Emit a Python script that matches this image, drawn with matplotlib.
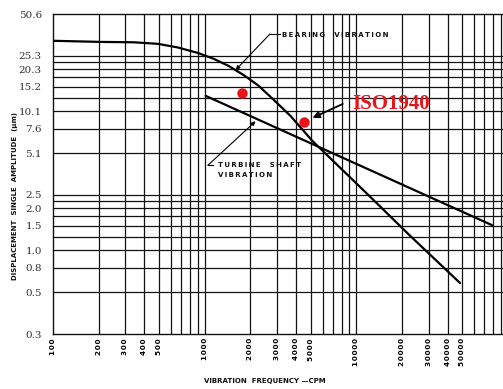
import matplotlib
matplotlib.use("Agg")
import matplotlib.pyplot as plt

UM_PER_MIL = 25.4

# Bearing vibration limit curve (frequency in CPM, displacement in µm)
bearing_cpm = [100, 207, 341, 491, 664, 899, 1146, 1439, 1805, 2266, 2845,
               3680, 5134, 11815, 22660, 48330]
bearing_um = [32.6, 32.0, 31.8, 31.0, 29.2, 26.7, 24.2, 21.5, 18.5, 15.5, 12.3,
              9.40, 6.21, 2.58, 1.29, 0.59]

# Turbine shaft vibration limit line
shaft_cpm = [1015, 78500]
shaft_um = [13.1, 1.54]

# ISO1940 points
iso_cpm = [1751, 4548]
iso_um = [13.8, 8.5]

# Axis ticks: grid laid out in mils, labelled in µm
y_tick_mils = [2, 1, 0.8, 0.6, 0.4, 0.3, 0.2, 0.1, 0.08, 0.06, 0.04, 0.03, 0.02, 0.01]
y_tick_labels = ["50.6", "25.3", "20.3", "15.2", "10.1", "7.6", "5.1",
                 "2.5", "2.0", "1.5", "1.0", "0.8", "0.5", "0.3"]
x_ticks = [100, 200, 300, 400, 500, 1000, 2000, 3000, 4000, 5000,
           10000, 20000, 30000, 40000, 50000]
y_grid_mils = [1, 0.9, 0.8, 0.7, 0.6, 0.5, 0.4, 0.3, 0.2,
               0.1, 0.09, 0.08, 0.07, 0.06, 0.05, 0.04, 0.03, 0.02]
x_grid = [m * d for d in (100, 1000, 10000) for m in range(2, 10)] + [1000, 10000]


def spaced(text, gap="\u2009"):
    """Letter-spaced caption text."""
    return "\n".join(gap.join(line) for line in text.split("\n"))


fig = plt.figure(figsize=(5.03, 3.89), dpi=100)
ax = fig.add_axes([53 / 503, 1 - 334 / 389, 1 - 53 / 503, 320 / 389])
ax.set_xscale("log")
ax.set_yscale("log")
ax.set_xlim(100, 92700)
ax.set_ylim(0.01 * UM_PER_MIL, 2 * UM_PER_MIL)

grid_kw = dict(color="#111111", lw=0.9, zorder=1)
for g in y_grid_mils:
    ax.axhline(g * UM_PER_MIL, **grid_kw)
for g in x_grid:
    ax.axvline(g, **grid_kw)

ax.spines["right"].set_visible(False)
for s in ("left", "top", "bottom"):
    ax.spines[s].set_linewidth(1.0)
    ax.spines[s].set_color("#111111")

ax.xaxis.set_minor_locator(plt.NullLocator())
ax.yaxis.set_minor_locator(plt.NullLocator())
ax.set_xticks(x_ticks)
ax.set_xticklabels([spaced(str(v), "\u200a") for v in x_ticks], rotation=90,
                   fontsize=5.2, fontweight="bold", family="DejaVu Sans")
ax.set_yticks([m * UM_PER_MIL for m in y_tick_mils])
ax.set_yticklabels(y_tick_labels, fontsize=7.5, family="DejaVu Serif", color="#333333")
ax.tick_params(axis="both", length=0)
ax.tick_params(axis="x", pad=3)
ax.tick_params(axis="y", pad=8)

ax.plot(bearing_cpm, bearing_um, color="black", lw=1.6, zorder=3,
        solid_capstyle="round", solid_joinstyle="round")
ax.plot(shaft_cpm, shaft_um, color="black", lw=1.6, zorder=3,
        solid_capstyle="round")
ax.plot(iso_cpm, iso_um, "o", color="#e8141b", ms=7.5, mec="none", zorder=4)

label_kw = dict(fontsize=5, fontweight="bold", family="DejaVu Sans", color="#111111")
arrow_kw = dict(arrowstyle="-|>", color="black", lw=0.8, mutation_scale=6,
                shrinkA=0, shrinkB=0)

# Bearing vibration callout
ax.text(0.509, 0.934, spaced("BEARING  VIBRATION"), transform=ax.transAxes,
        ha="left", va="center", **label_kw)
ax.plot([0.504, 0.482], [0.9375, 0.9375], transform=ax.transAxes,
        color="black", lw=0.8, zorder=5)
ax.annotate("", xy=(1600, 20.1), xycoords="data",
            xytext=(0.482, 0.9375), textcoords="axes fraction",
            arrowprops=arrow_kw, zorder=5)

# Turbine shaft callout
ax.text(0.366, 0.536, spaced("TURBINE  SHAFT\nVIBRATION"), transform=ax.transAxes,
        ha="left", va="top", linespacing=1.7, **label_kw)
ax.plot([0.355, 0.344], [0.527, 0.527], transform=ax.transAxes,
        color="black", lw=0.8, zorder=5)
ax.annotate("", xy=(2166, 8.6), xycoords="data",
            xytext=(0.344, 0.527), textcoords="axes fraction",
            arrowprops=arrow_kw, zorder=5)

# ISO1940 callout
ax.text(0.664, 0.719, "ISO1940", transform=ax.transAxes, ha="left", va="center",
        fontsize=15, fontweight="bold", family="Liberation Serif", color="#e8141b")
ax.annotate("", xy=(5140, 9.1), xycoords="data",
            xytext=(0.644, 0.719), textcoords="axes fraction",
            arrowprops=dict(arrowstyle="-|>", color="black", lw=1.3,
                            mutation_scale=10, shrinkA=0, shrinkB=0), zorder=5)

fig.text(15 / 503, 1 - 196 / 389, "DISPLACEMENT  SINGLE  AMPLITUDE  (µm)",
         rotation=90, ha="center", va="center", **label_kw)
fig.text(265 / 503, 1 - 381 / 389, "VIBRATION  FREQUENCY —CPM",
         ha="center", va="center", **label_kw)

fig.savefig("out.png", dpi=100)
